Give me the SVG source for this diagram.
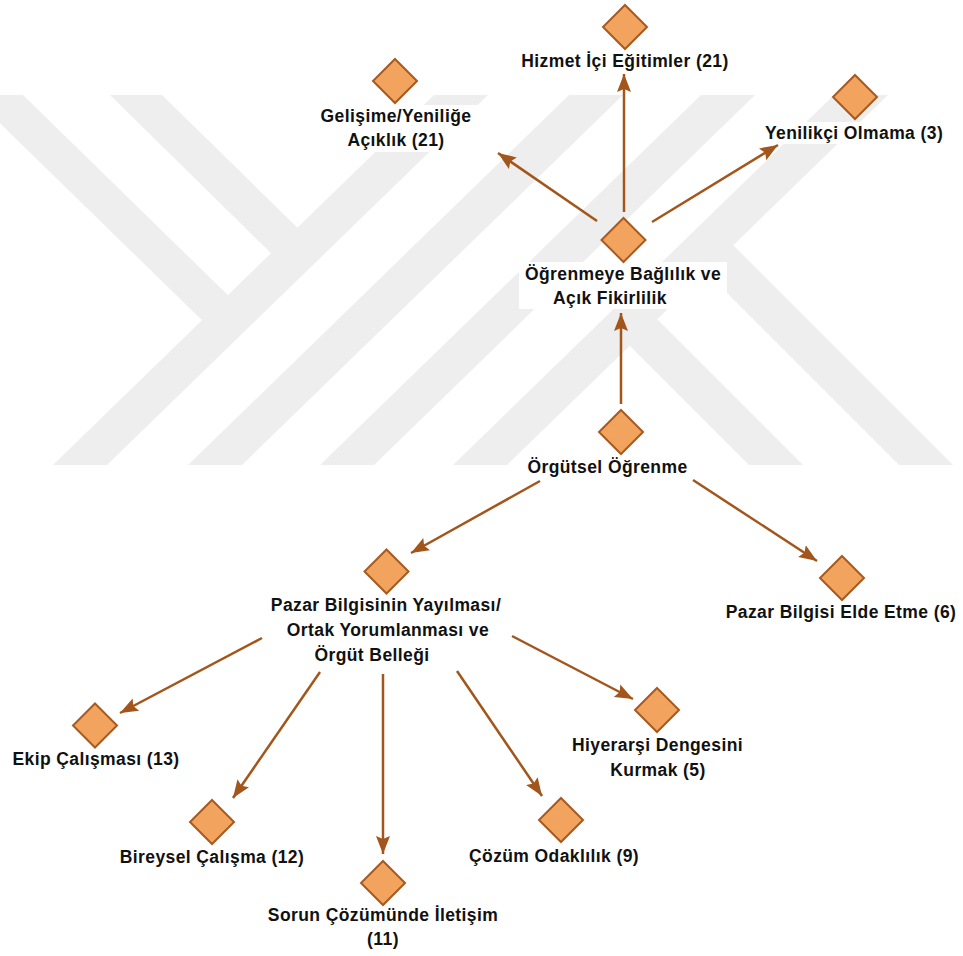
<svg xmlns="http://www.w3.org/2000/svg" width="963" height="956" viewBox="0 0 963 956">
  <style>
    .wm { fill: #eeeeee; }
    .lbl-bg { fill: #ffffff; }
    .node-shape { fill: #f2a35e; stroke: #a65a1f; stroke-width: 2; stroke-linejoin: miter; }
    .lbl { font-family: "Liberation Sans", Arial, Helvetica, sans-serif; font-weight: bold; font-size: 17.5px; letter-spacing: 0.4px; fill: #111111; text-anchor: middle; }
    .edge { stroke: #a3561b; stroke-width: 2.5; fill: none; marker-end: url(#arrow); }
  </style>
  <defs>
    <marker id="arrow" markerUnits="userSpaceOnUse" markerWidth="20" markerHeight="16" refX="18" refY="0" viewBox="0 -8 20 16" orient="auto">
      <path d="M0,-7 L18,0 L0,7 L3,0 Z" fill="#a3561b"/>
    </marker>
    <path id="dia" d="M0,-22 L22,0 L0,22 L-22,0 Z"/>
  </defs>

  <rect width="963" height="956" fill="#ffffff"/>

  <!-- background emblem: diagonal bands -->
  <g id="emblem">
    <polygon class="wm" points="53,465 107,465 488,95 434,95"/>
    <polygon class="wm" points="188,465 242,465 623,95 569,95"/>
    <polygon class="wm" points="320,465 374,465 755,95 701,95"/>
    <polygon class="wm" points="453,465 507,465 888,95 834,95"/>
    <polygon class="wm" points="-29,95 23,95 240,307 214,332"/>
    <polygon class="wm" points="110,95 162,95 310,240 283,265"/>
    <polygon class="wm" points="720,232 953,465 899,465 690,256"/>
    <polygon class="wm" points="650,312 803,465 749,465 620,336"/>
  </g>

  <!-- label backgrounds -->
  <g id="label-backgrounds">
    <rect class="lbl-bg" x="515" y="50" width="222" height="22"/>
    <rect class="lbl-bg" x="314" y="105" width="164" height="47"/>
    <rect class="lbl-bg" x="759" y="122" width="190" height="22"/>
    <rect class="lbl-bg" x="519" y="262" width="208" height="47"/>
    <rect class="lbl-bg" x="521" y="456" width="173" height="22"/>
  </g>

  <!-- connectors -->
  <g id="connectors">
    <line class="edge" x1="624" y1="212" x2="624" y2="74"/>
    <line class="edge" x1="597" y1="221" x2="498" y2="153"/>
    <line class="edge" x1="652" y1="222" x2="778" y2="145"/>
    <line class="edge" x1="621" y1="404" x2="621" y2="313"/>
    <line class="edge" x1="540" y1="481" x2="411" y2="553"/>
    <line class="edge" x1="693" y1="480" x2="817" y2="561"/>
    <line class="edge" x1="262" y1="638" x2="120" y2="713"/>
    <line class="edge" x1="320" y1="672" x2="233" y2="798"/>
    <line class="edge" x1="383" y1="674" x2="383" y2="854"/>
    <line class="edge" x1="457" y1="671" x2="542" y2="796"/>
    <line class="edge" x1="512" y1="636" x2="633" y2="699"/>
  </g>

  <!-- nodes -->
  <g id="node-hizmet">
    <use href="#dia" class="node-shape" x="625" y="27"/>
    <text class="lbl" x="625" y="67">Hizmet İçi Eğitimler (21)</text>
  </g>
  <g id="node-gelisime">
    <use href="#dia" class="node-shape" x="395" y="81"/>
    <text class="lbl" x="396" y="122">Gelişime/Yeniliğe</text>
    <text class="lbl" x="396" y="146">Açıklık (21)</text>
  </g>
  <g id="node-yenilikci">
    <use href="#dia" class="node-shape" x="855" y="97"/>
    <text class="lbl" x="854" y="139">Yenilikçi Olmama (3)</text>
  </g>
  <g id="node-ogrenmeye">
    <use href="#dia" class="node-shape" x="623.5" y="240"/>
    <text class="lbl" x="623" y="280">Öğrenmeye Bağlılık ve</text>
    <text class="lbl" x="610" y="304">Açık Fikirlilik</text>
  </g>
  <g id="node-orgutsel">
    <use href="#dia" class="node-shape" x="621" y="432"/>
    <text class="lbl" x="607.5" y="473">Örgütsel Öğrenme</text>
  </g>
  <g id="node-pazar-elde">
    <use href="#dia" class="node-shape" x="842" y="578"/>
    <text class="lbl" x="841" y="618">Pazar Bilgisi Elde Etme (6)</text>
  </g>
  <g id="node-pazar-yayilma">
    <use href="#dia" class="node-shape" x="386.5" y="571.5"/>
    <text class="lbl" x="386" y="611">Pazar Bilgisinin Yayılması/</text>
    <text class="lbl" x="388" y="636">Ortak Yorumlanması ve</text>
    <text class="lbl" x="372" y="661">Örgüt Belleği</text>
  </g>
  <g id="node-ekip">
    <use href="#dia" class="node-shape" x="95" y="725.5"/>
    <text class="lbl" x="96" y="765">Ekip Çalışması (13)</text>
  </g>
  <g id="node-bireysel">
    <use href="#dia" class="node-shape" x="212" y="822"/>
    <text class="lbl" x="212" y="863">Bireysel Çalışma (12)</text>
  </g>
  <g id="node-sorun">
    <use href="#dia" class="node-shape" x="383" y="883"/>
    <text class="lbl" x="383" y="921">Sorun Çözümünde İletişim</text>
    <text class="lbl" x="383" y="945">(11)</text>
  </g>
  <g id="node-cozum">
    <use href="#dia" class="node-shape" x="561" y="820"/>
    <text class="lbl" x="554" y="862">Çözüm Odaklılık (9)</text>
  </g>
  <g id="node-hiyerarsi">
    <use href="#dia" class="node-shape" x="657" y="710"/>
    <text class="lbl" x="657.5" y="751">Hiyerarşi Dengesini</text>
    <text class="lbl" x="658" y="776">Kurmak (5)</text>
  </g>
</svg>
